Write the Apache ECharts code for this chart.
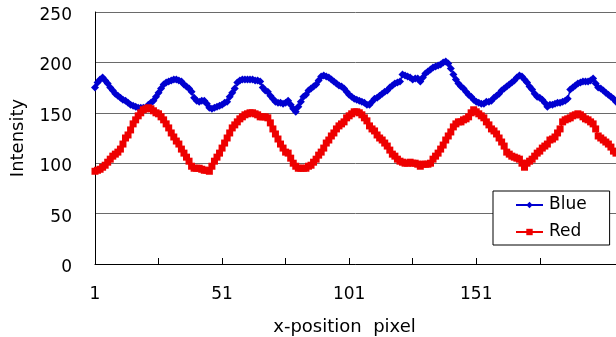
<!DOCTYPE html>
<html>
<head>
<meta charset="utf-8">
<script src="https://cdn.jsdelivr.net/npm/echarts@6/dist/echarts.min.js"></script>
<style>
html,body{margin:0;padding:0;background:#fff;}
#c{width:616px;height:337px;}
</style>
</head>
<body>
<div id="c"></div>
<script>
var blueValues = [
175,180,183,185,182,179,175,172,169,167,
165,163,162,160,158,157,156,155,155,155,
155,158,160,162,166,170,174,178,180,181,
182,183,183,182,181,178,176,174,171,165,
162,161,162,162,159,155,154,155,156,157,
158,160,161,166,170,174,180,182,183,183,
183,183,183,182,182,181,175,172,171,167,
164,161,160,160,159,160,162,158,154,151,
156,161,166,168,172,174,176,178,182,186,
187,186,185,183,181,179,177,176,174,171,
168,166,164,163,162,161,160,158,158,161,
164,165,167,169,171,172,175,177,179,180,
181,188,187,186,185,183,184,184,181,185,
189,191,193,195,196,197,198,200,201,199,
194,188,183,179,176,174,171,168,166,163,
161,160,159,159,161,161,162,165,167,169,
172,174,176,178,180,182,185,187,186,183,
180,176,173,169,166,165,163,160,156,158,
158,159,160,160,161,162,164,173,175,177,
179,180,181,181,181,182,184,179,175,174,
172,170,168,166,164,161
];
var redValues = [
92,93,94,96,98,101,104,107,109,111,
114,119,125,128,133,139,143,147,150,153,
154,155,154,152,150,149,146,143,139,135,
130,126,122,119,114,110,106,102,97,95,
95,95,94,93,93,92,97,102,106,110,
115,120,125,130,135,138,141,144,146,148,
149,150,150,149,148,146,146,146,145,140,
134,129,124,119,115,111,110,105,100,97,
95,95,95,95,97,98,101,104,108,111,
115,120,123,127,130,134,137,139,141,145,
147,149,151,151,150,148,145,142,137,134,
132,128,125,123,120,117,113,109,107,104,
102,101,100,100,101,100,100,99,97,99,
99,99,100,104,107,110,114,118,123,127,
131,136,139,141,141,143,144,146,150,153,
151,149,147,145,141,138,134,132,129,125,
121,117,111,109,107,106,105,104,100,96,
100,102,104,107,110,112,115,117,119,123,
124,126,130,134,141,143,144,145,147,148,
149,148,146,144,143,141,139,134,127,125,
123,121,119,116,112,110
];
var categories = blueValues.map(function (_, i) { return String(i + 1); });
var yTicks = [0, 50, 100, 150, 200, 250];

var FONT = 'DejaVu Sans';
var chart = echarts.init(document.getElementById('c'), null, {renderer: 'canvas'});
chart.setOption({
  animation: false,
  backgroundColor: '#ffffff',
  grid: {left: 95, top: 12, right: 0, bottom: 73, containLabel: false, outerBoundsMode: 'none'},
  legend: {
    orient: 'vertical',
    left: 493,
    top: 191,
    padding: [4, 23, 3, 22],
    itemGap: 7,
    itemWidth: 27,
    itemHeight: 8,
    backgroundColor: '#ffffff',
    borderColor: '#000000',
    borderWidth: 1,
    borderRadius: 0,
    textStyle: {fontFamily: FONT, fontSize: 17, color: '#000', lineHeight: 20, padding: [0, 0, 0, 1]},
    data: ['Blue', 'Red']
  },
  xAxis: {
    type: 'category',
    data: categories,
    boundaryGap: false,
    name: 'x-position  pixel',
    nameLocation: 'middle',
    nameGap: 54,
    nameTextStyle: {fontFamily: FONT, fontSize: 18, color: '#000', padding: [0, 22, 0, 0]},
    axisLine: {show: true, lineStyle: {color: '#000', width: 1}},
    axisTick: {
      show: true, inside: true, length: 6,
      lineStyle: {color: '#000', width: 1},
      interval: function (i) { return i % 25 === 0 && i > 0 && i < 200; }
    },
    axisLabel: {
      fontFamily: FONT, fontSize: 17, color: '#000', margin: 22,
      interval: function (i) { return i % 50 === 0 && i < 200; }
    },
    splitLine: {show: false}
  },
  yAxis: {
    type: 'value',
    min: yTicks[0],
    max: yTicks[yTicks.length - 1],
    interval: 50,
    name: 'Intensity',
    nameLocation: 'middle',
    nameGap: 68,
    nameRotate: 90,
    nameTextStyle: {fontFamily: FONT, fontSize: 18, color: '#000'},
    axisLine: {show: true, lineStyle: {color: '#000', width: 1}},
    axisTick: {show: false},
    axisLabel: {
      margin: 23,
      formatter: function (v) { return '{a|' + v + '}'; },
      rich: {a: {fontFamily: FONT, fontSize: 17, color: '#000', padding: [7, 0, 0, 0]}}
    },
    splitLine: {show: true, lineStyle: {color: '#6a6a6a', width: 1}}
  },
  series: [
    {
      name: 'Blue',
      type: 'line',
      data: blueValues,
      symbol: 'diamond',
      symbolSize: 8,
      showSymbol: true,
      showAllSymbol: true,
      itemStyle: {color: '#0000d0'},
      lineStyle: {color: '#0000d0', width: 1.5}
    },
    {
      name: 'Red',
      type: 'line',
      data: redValues,
      symbol: 'rect',
      symbolSize: 7,
      showSymbol: true,
      showAllSymbol: true,
      itemStyle: {color: '#ee0000'},
      lineStyle: {color: '#ee0000', width: 1.5}
    }
  ]
});
</script>
</body>
</html>
